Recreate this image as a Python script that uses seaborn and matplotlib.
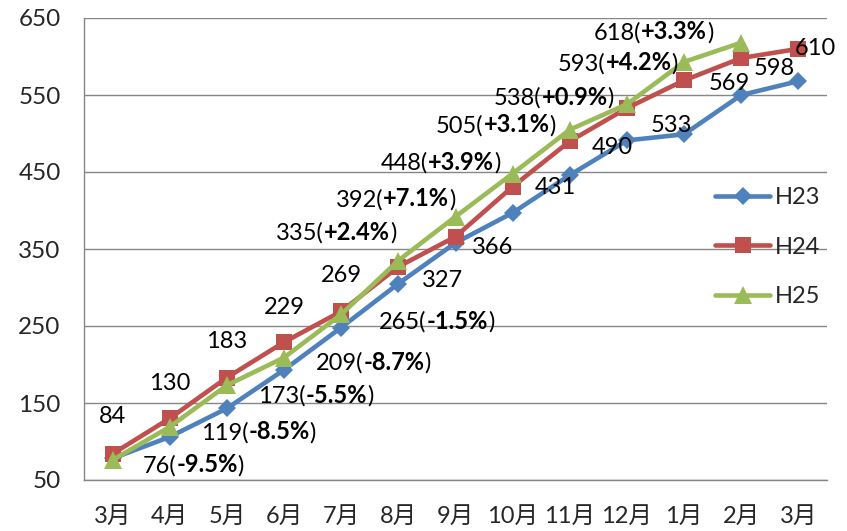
import matplotlib
matplotlib.use("Agg")
import matplotlib.pyplot as plt
import seaborn as sns
import pandas as pd
from matplotlib.offsetbox import TextArea, HPacker, AnnotationBbox

# ---------------- data ----------------
months = ["3月", "4月", "5月", "6月", "7月", "8月", "9月", "10月", "11月", "12月", "1月", "2月", "3月"]
h23 = [78, 106, 143, 193, 248, 305, 358, 397, 446, 491, 499, 550, 568]
h24 = [84, 130, 183, 229, 269, 327, 366, 431, 490, 533, 569, 598, 610]
h25 = [76, 119, 173, 209, 265, 335, 392, 448, 505, 538, 593, 618]
h25_change = ["-9.5%", "-8.5%", "-5.5%", "-8.7%", "-1.5%", "+2.4%", "+7.1%",
              "+3.9%", "+3.1%", "+0.9%", "+4.2%", "+3.3%"]
series_names = ["H23", "H24", "H25"]
y_ticks = [50, 150, 250, 350, 450, 550, 650]

# ---------------- styling ----------------
sns.set_style("white")
FONT = ["Lato", "Noto Sans CJK JP", "DejaVu Sans"]
plt.rcParams["font.family"] = FONT

colors = {"H23": "#4F81BD", "H24": "#C0504D", "H25": "#9BBB59"}
markers = {"H23": "D", "H24": "s", "H25": "^"}
msizes = {"H23": 9, "H24": 12, "H25": 13}
GRID = "#868686"

# label offsets in pixels (dx right, dy down)
h24_off = [(0, -37), (0, -35), (0, -36), (0, -35), (0, -36), (44, 14), (37, 11),
           (43, 1), (43, 6), (44, 17), (45, 3), (33, 10), (17, 0)]
h25_anchor = ["l", "l", "l", "l", "l", "r", "r", "r", "r", "r", "r", "r"]
h25_off = [(30, 5), (31, 5), (31, 10), (32, 5), (38, 7), (-2, -28), (0, -18),
           (-12, -11), (-14, -5), (-13, -7), (-6, 1), (-28, -11)]

rows = []
for name, vals in zip(series_names, [h23, h24, h25]):
    for i, v in enumerate(vals):
        rows.append({"idx": i, "value": v, "series": name})
df = pd.DataFrame(rows)

fig = plt.figure(figsize=(8.47, 5.31), dpi=100)
ax = fig.add_axes([84 / 847, 51 / 531, 743 / 847, 462 / 531])

for name in series_names:
    sub = df[df["series"] == name]
    sns.lineplot(data=sub, x="idx", y="value", ax=ax, color=colors[name],
                 marker=markers[name], markersize=msizes[name],
                 markeredgewidth=0, markeredgecolor=colors[name],
                 linewidth=3.3, label=name, errorbar=None, clip_on=False,
                 zorder=3)

ax.set_xlim(-0.5, len(months) - 0.5)
ax.set_ylim(50, 650)
ax.set_yticks(y_ticks)
ax.set_xticks(range(len(months)))
ax.set_xticklabels(months)
ax.set_xticks([i - 0.5 for i in range(len(months) + 1)], minor=True)
ax.set_xlabel("")
ax.set_ylabel("")

ax.tick_params(axis="x", which="major", length=0, pad=19, labelsize=17)
ax.tick_params(axis="x", which="minor", length=5.8, width=1, color=GRID, direction="out")
ax.tick_params(axis="y", length=5.8, width=1, color=GRID, direction="out", pad=11, labelsize=17.5)

ax.yaxis.grid(True, color=GRID, linewidth=1)
ax.xaxis.grid(False)
ax.set_axisbelow(True)
for s in ["top", "right"]:
    ax.spines[s].set_visible(False)
for s in ["left", "bottom"]:
    ax.spines[s].set_color(GRID)
    ax.spines[s].set_linewidth(1)

# legend
handles, labels = ax.get_legend_handles_labels()
ax.legend(handles, labels, loc="center left", bbox_to_anchor=((715 - 84) / 743, (480 - 247) / 462),
          frameon=False, fontsize=17, handlelength=2.35, handletextpad=0.2,
          labelspacing=1.2, borderpad=0, borderaxespad=0)

PX = 0.72  # points per pixel at 100 dpi
LBL = 17

# H24 labels
for i, v in enumerate(h24):
    dx, dy = h24_off[i]
    ax.annotate(str(v), (i, v), xytext=(dx * PX, -dy * PX), textcoords="offset points",
                ha="center", va="center", fontsize=LBL, color="black", zorder=6,
                annotation_clip=False)

# H25 labels with bold change
for i, v in enumerate(h25):
    dx, dy = h25_off[i]
    tp = dict(fontsize=LBL, color="black", family=FONT)
    tpb = dict(fontsize=LBL, color="black", family=FONT, fontweight="bold")
    pack = HPacker(children=[TextArea(f"{v}(", textprops=tp),
                             TextArea(h25_change[i], textprops=tpb),
                             TextArea(")", textprops=tp)],
                   pad=0, sep=0, align="baseline")
    align = (0, 0.5) if h25_anchor[i] == "l" else (1, 0.5)
    ab = AnnotationBbox(pack, (i, v), xybox=(dx * PX, -dy * PX), boxcoords="offset points",
                        box_alignment=align, frameon=False, pad=0, annotation_clip=False,
                        zorder=6)
    ax.add_artist(ab)

fig.savefig("out.png", dpi=100)
